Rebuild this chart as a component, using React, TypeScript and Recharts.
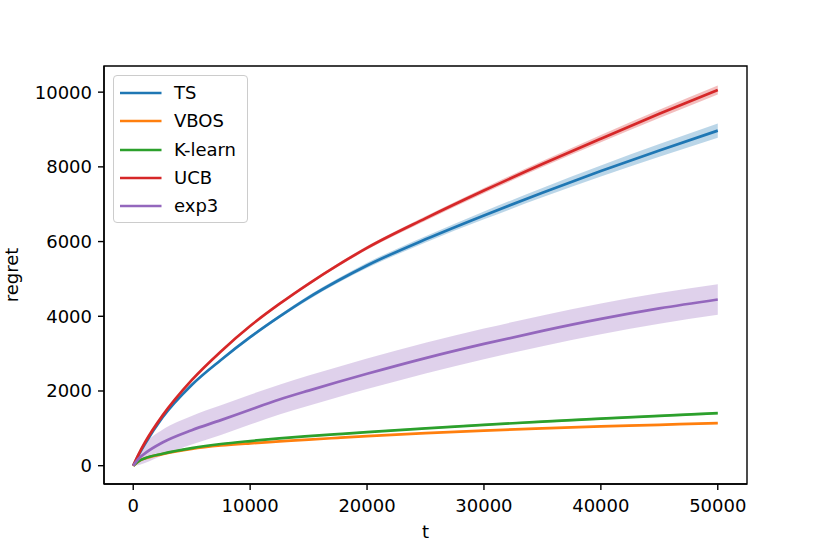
import {
  Area,
  ComposedChart,
  Legend,
  Line,
  ReferenceArea,
  XAxis,
  YAxis,
} from 'recharts';

const steps = [0, 500, 1000, 2500, 5000, 7500, 10000, 12500, 15000, 17500, 20000, 25000, 30000, 35000, 40000, 45000, 50000];

const tsMean = [0, 310, 580, 1290, 2160, 2830, 3440, 3990, 4500, 4950, 5360, 6060, 6700, 7310, 7890, 8440, 8970];
const tsSpread = [0, 5, 10, 15, 25, 30, 40, 45, 55, 60, 70, 85, 105, 125, 145, 170, 190];

const vbosMean = [0, 125, 195, 310, 450, 540, 600, 650, 700, 745, 790, 870, 940, 1000, 1050, 1095, 1140];
const vbosSpread = [0, 10, 10, 12, 12, 14, 15, 15, 16, 16, 18, 18, 20, 20, 22, 22, 24];

const klearnMean = [0, 130, 200, 320, 470, 580, 660, 730, 790, 845, 900, 1000, 1095, 1180, 1260, 1335, 1405];
const klearnSpread = [0, 10, 12, 14, 15, 16, 18, 18, 20, 20, 22, 24, 26, 28, 30, 32, 34];

const ucbMean = [0, 330, 620, 1340, 2290, 3060, 3740, 4330, 4870, 5370, 5830, 6620, 7365, 8075, 8755, 9420, 10060];
const ucbSpread = [0, 5, 8, 12, 20, 25, 30, 35, 40, 45, 50, 60, 70, 80, 95, 110, 120];

const exp3Mean = [0, 200, 330, 620, 950, 1220, 1500, 1770, 2010, 2240, 2460, 2880, 3260, 3610, 3930, 4210, 4450];
const exp3Spread = [0, 180, 260, 340, 380, 395, 400, 400, 405, 405, 410, 410, 410, 410, 410, 410, 410];

const xTicks = [0, 10000, 20000, 30000, 40000, 50000];
const yTicks = [0, 2000, 4000, 6000, 8000, 10000];
const xDomain = [-2500, 52500];
const yDomain = [-490, 10700];

const series = [
  { key: 'ts', name: 'TS', color: '#1f77b4', mean: tsMean, spread: tsSpread },
  { key: 'vbos', name: 'VBOS', color: '#ff7f0e', mean: vbosMean, spread: vbosSpread },
  { key: 'klearn', name: 'K-learn', color: '#2ca02c', mean: klearnMean, spread: klearnSpread },
  { key: 'ucb', name: 'UCB', color: '#d62728', mean: ucbMean, spread: ucbSpread },
  { key: 'exp3', name: 'exp3', color: '#9467bd', mean: exp3Mean, spread: exp3Spread },
];

const rows = steps.map((t, i) => {
  const row: Record<string, number | number[]> = { t };
  series.forEach((s) => {
    row[s.key] = s.mean[i];
    row[`${s.key}Band`] = [s.mean[i] - s.spread[i], s.mean[i] + s.spread[i]];
  });
  return row;
});

const fontFamily = '"DejaVu Sans", sans-serif';
const tickStyle = { fontSize: 18, fill: '#000000', fontFamily };

function LegendBox() {
  return (
    <div
      style={{
        width: 135,
        height: 148,
        boxSizing: 'border-box',
        border: '1px solid #cccccc',
        borderRadius: 4,
        background: 'rgba(255,255,255,0.8)',
        fontFamily,
        fontSize: 18,
        paddingTop: 3,
      }}
    >
      {series.map((s) => (
        <div key={s.key} style={{ display: 'flex', alignItems: 'center', height: 28.3 }}>
          <svg width={60} height={10} style={{ flex: 'none' }}>
            <line x1={6} x2={47.5} y1={5} y2={5} stroke={s.color} strokeWidth={2.7} />
          </svg>
          <span style={{ color: '#000000', lineHeight: '20px' }}>{s.name}</span>
        </div>
      ))}
    </div>
  );
}

export default function App() {
  return (
    <div style={{ position: 'absolute', left: 0, top: 0, width: 830, height: 554, background: '#ffffff' }}>
      <ComposedChart
        width={830}
        height={554}
        data={rows}
        margin={{ top: 66, right: 83, bottom: 0, left: 0 }}
        style={{ fontFamily }}
      >
        <XAxis
          dataKey="t"
          type="number"
          domain={xDomain}
          allowDataOverflow
          ticks={xTicks}
          height={70}
          tickSize={6}
          tickMargin={9}
          tick={tickStyle}
          stroke="#000000"
          strokeWidth={1.4}
          tickLine={{ stroke: '#000000', strokeWidth: 1.4 }}
          label={{ value: 't', position: 'insideBottom', offset: 16, style: { fontSize: 18, fill: '#000000', fontFamily } }}
        />
        <YAxis
          type="number"
          domain={yDomain}
          allowDataOverflow
          ticks={yTicks}
          width={104}
          tickSize={6}
          tickMargin={6}
          tick={tickStyle}
          stroke="#000000"
          strokeWidth={1.4}
          tickLine={{ stroke: '#000000', strokeWidth: 1.4 }}
          label={{
            value: 'regret',
            angle: -90,
            position: 'insideLeft',
            offset: 12,
            style: { fontSize: 18, fill: '#000000', fontFamily, textAnchor: 'middle' },
          }}
        />
        {series.map((s) => (
          <Area
            key={`${s.key}Band`}
            dataKey={`${s.key}Band`}
            type="monotone"
            stroke="none"
            fill={s.color}
            fillOpacity={0.3}
            isAnimationActive={false}
            legendType="none"
            activeDot={false}
          />
        ))}
        {series.map((s) => (
          <Line
            key={s.key}
            dataKey={s.key}
            name={s.name}
            type="monotone"
            stroke={s.color}
            strokeWidth={2.7}
            dot={false}
            activeDot={false}
            isAnimationActive={false}
          />
        ))}
        <ReferenceArea
          x1={xDomain[0]}
          x2={xDomain[1]}
          y1={yDomain[0]}
          y2={yDomain[1]}
          fill="none"
          stroke="#000000"
          strokeWidth={1.4}
          ifOverflow="visible"
        />
        <Legend
          layout="vertical"
          align="center"
          verticalAlign="middle"
          wrapperStyle={{ left: 113, top: 75, width: 135 }}
          content={() => <LegendBox />}
        />
      </ComposedChart>
    </div>
  );
}
